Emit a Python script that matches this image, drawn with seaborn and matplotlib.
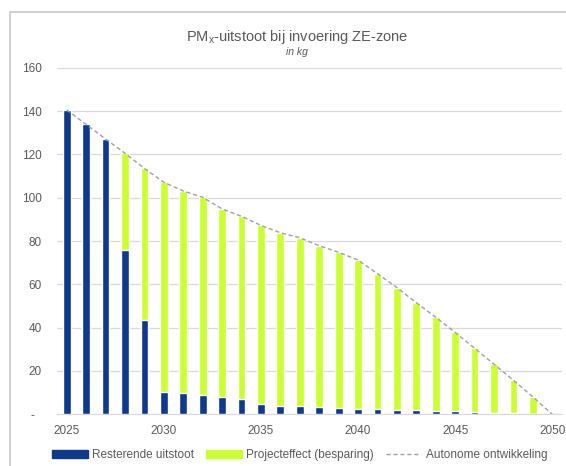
import matplotlib.pyplot as plt
import matplotlib.patches as mpatches
from matplotlib.lines import Line2D
import seaborn as sns
import numpy as np

# Data
jaren = list(range(2025, 2051))
autonoom = [140.5, 133.8, 127.1, 120.5, 113.5, 107.1, 103.1, 100.2, 94.8, 91.4,
            87.2, 83.8, 81.5, 77.8, 74.8, 71.2, 64.9, 58.5, 51.5, 44.8,
            37.8, 30.5, 23.1, 15.7, 8.0, 0.0]
resterend = [140.5, 133.8, 127.1, 75.7, 43.4, 10.5, 9.7, 8.8, 8.0, 7.1,
             4.6, 4.0, 3.7, 3.2, 2.9, 2.6, 2.3, 2.0, 2.0, 1.5,
             1.4, 1.1, 0.8, 0.6, 0.0, 0.0]
y_ticks = [0, 20, 40, 60, 80, 100, 120, 140, 160]
y_labels = ["-  ", "20", "40", "60", "80", "100", "120", "140", "160"]
x_ticks = [2025, 2030, 2035, 2040, 2045, 2050]

blauw = "#0F3A8C"
groen = "#CCFF33"
lijn = "#A0A0A0"
tekst = "#595959"

sns.set_style("white")
plt.rcParams["font.family"] = ["Liberation Sans", "DejaVu Sans"]

fig = plt.figure(figsize=(5.66, 4.66), dpi=100)
ax = fig.add_axes([57 / 566, 1 - 414.3 / 466, 505 / 566, 346.6 / 466])

# rand rond het grafiekgebied
fig.patches.append(mpatches.Rectangle((10 / 566, -0.1), 1.2, 1 - 12 / 466 + 0.1,
                                      transform=fig.transFigure, fill=False,
                                      edgecolor="#C8C8C8", linewidth=1.2))

# totaal (groen) eerst, daarna resterend (blauw) eroverheen
sns.barplot(x=jaren, y=autonoom, native_scale=True, width=0.4, color=groen,
            saturation=1, ax=ax, zorder=2)
sns.barplot(x=jaren, y=resterend, native_scale=True, width=0.4, color=blauw,
            saturation=1, ax=ax, zorder=3)
sns.lineplot(x=jaren, y=autonoom, color=lijn, linewidth=1.0,
             linestyle=(0, (3, 2)), ax=ax, zorder=4)

ax.set_xlim(2024.5, 2050.5)
ax.set_ylim(0, 160)
ax.set_yticks(y_ticks)
ax.set_yticklabels(y_labels)
ax.set_xticks(x_ticks)
ax.set_xticklabels([str(j) for j in x_ticks])
ax.tick_params(axis="both", length=0, labelsize=8.5, labelcolor=tekst)
ax.tick_params(axis="y", pad=11)
ax.tick_params(axis="x", pad=8)
ax.grid(axis="y", color="#D9D9D9", linewidth=0.9, zorder=0)
ax.set_axisbelow(True)
for s in ["top", "right", "left"]:
    ax.spines[s].set_visible(False)
ax.spines["bottom"].set_color("#D9D9D9")
ax.set_xlabel("")
ax.set_ylabel("")

fig.text(0.525, 1 - 37 / 466, r"PM$_\mathregular{x}$-uitstoot bij invoering ZE-zone",
         ha="center", va="center", fontsize=10.5, color=tekst)
fig.text(0.525, 1 - 52 / 466, "in kg", ha="center", va="center",
         fontsize=7.5, style="italic", color=tekst)

handles = [
    mpatches.Patch(color=blauw, label="Resterende uitstoot"),
    mpatches.Patch(color=groen, label="Projecteffect (besparing)"),
    Line2D([0], [0], color=lijn, linewidth=1.0, linestyle=(0, (3, 2)),
           label="Autonome ontwikkeling"),
]
leg = fig.legend(handles=handles, loc="center", bbox_to_anchor=(0.53, 1 - 455 / 466),
                 ncol=3, frameon=False, fontsize=8.5, handlelength=3.0,
                 handleheight=0.6, columnspacing=1.0, handletextpad=0.4)
for t in leg.get_texts():
    t.set_color(tekst)

fig.savefig("out.png", dpi=100)
